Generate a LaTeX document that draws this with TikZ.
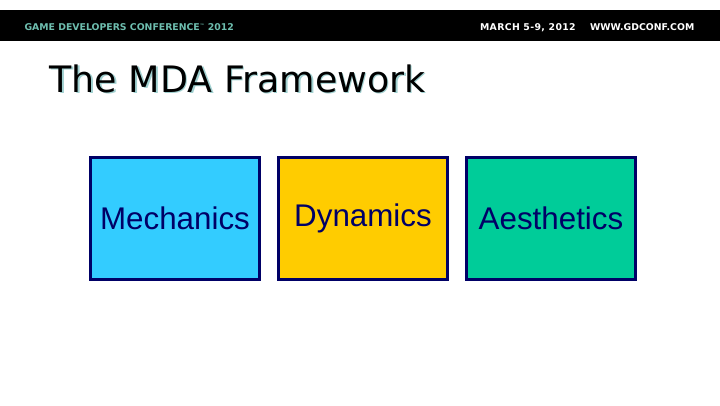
\documentclass[tikz,border=0pt]{standalone}
\usepackage{fontspec}
\setmainfont{Liberation Sans}
\newfontfamily\titlefont{DejaVu Sans}
\newfontfamily\bannerfont{DejaVu Sans Bold}
\definecolor{boxline}{RGB}{0,0,102}
\definecolor{mechfill}{RGB}{51,204,255}
\definecolor{dynfill}{RGB}{255,204,0}
\definecolor{aesfill}{RGB}{0,204,153}
\definecolor{bannerteal}{RGB}{110,190,175}
\definecolor{titleshadow}{RGB}{160,208,208}
\tikzset{every picture/.style={line width=0.75pt}}
\tikzset{
	mdabox/.style={draw=boxline,line width=2.25pt,minimum width=126.75pt,minimum height=91.5pt,inner sep=0pt,text=boxline,font=\fontsize{23.5}{28}\selectfont},
	bannertext/.style={inner sep=0pt,anchor=base west,font=\bannerfont\fontsize{7}{8}\selectfont},
	titletext/.style={inner sep=0pt,anchor=base west,font=\titlefont\fontsize{27.3}{32}\selectfont}
}
\begin{document}
\begin{tikzpicture}[x=0.75pt,y=0.75pt,yscale=-1,xscale=1]
		\useasboundingbox (0,0) rectangle (720,405);
		%Banner
		\fill [black] (0,10) rectangle (720,41);
		\node [bannertext,text=bannerteal] (conference) at (24,30.5) {GAME DEVELOPERS CONFERENCE\raisebox{2.6pt}{\fontsize{3.5}{4}\selectfont™} 2012};
		\node [bannertext,text=white] (dates) at (479.5,30.5) {\addfontfeature{LetterSpace=4}MARCH 5-9, 2012};
		\node [bannertext,text=white] (website) at (589.5,30.5) {WWW.GDCONF.COM};

		%Title with its shadow
		\node [titletext,text=titleshadow] (titleshadow) at (50.5,93.5) {The MDA Framework};
		\node [titletext,text=black] (title) at (49,92) {The MDA Framework};

		%Boxes
		\node [mdabox,fill=mechfill] (mechanics) at (175,218) {Mechanics};
		\node [mdabox,fill=dynfill] (dynamics) at (363,218) {Dynamics};
		\node [mdabox,fill=aesfill] (aesthetics) at (551,218) {Aesthetics};
\end{tikzpicture}
\end{document}
